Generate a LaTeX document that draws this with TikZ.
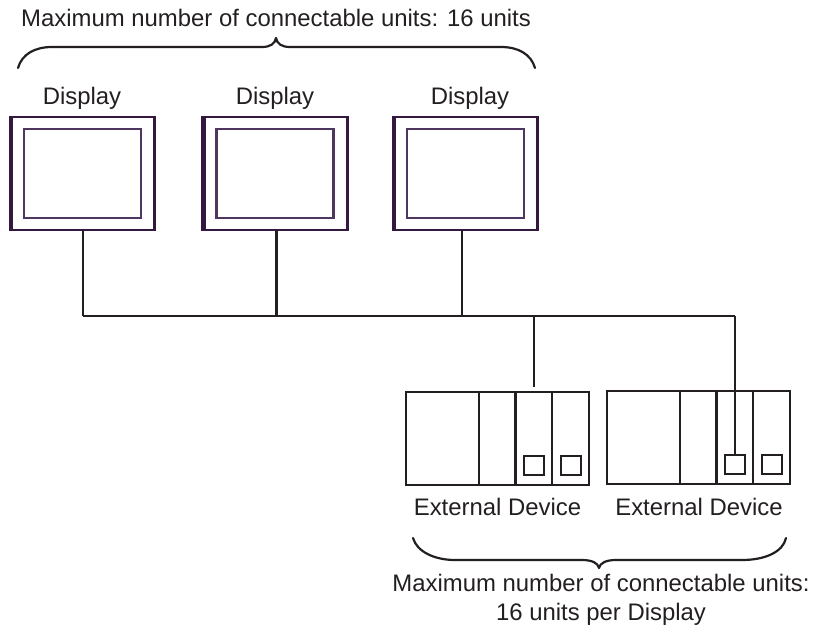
\documentclass[tikz,border=0pt]{standalone}
\usepackage{fontspec}
\setmainfont{Liberation Sans}
\definecolor{dark}{HTML}{231F20}
\definecolor{frame}{HTML}{35183F}
\definecolor{framein}{HTML}{4E3660}
\tikzset{
  x=1pt,y=-1pt,
  label text/.style={font=\fontsize{23.9}{28.5}\selectfont,text=dark,inner sep=0pt,align=center},
  link/.style={draw=dark,line width=2.5pt},
  outerframe/.style={draw=frame,line width=2.4pt,fill=white},
  innerframe/.style={draw=framein,line width=2.2pt,fill=white},
  unit/.style={draw=dark,line width=2.4pt,fill=white},
  port/.style={draw=dark,line width=1.8pt},
  curly/.style={draw=dark,line width=2.2pt,line cap=round,line join=round}
}
\newcommand{\disp}[3]{%
  \path[outerframe] (#1,117) rectangle (#1+145,230);
  \draw[frame,line width=4pt] (#1+1,117) -- (#1+1,230);
  \draw[frame,line width=3pt] (#1+144.5,117) -- (#1+144.5,230);
  \path[innerframe] (#1+14,129) rectangle (#1+131,218);
  \coordinate (#2) at (#3,230);
}
\newcommand{\extdev}[3]{%
  \path[unit] (#1,#2) rectangle (#1+183,#2+93);
  \draw[unit] (#1+73,#2) -- (#1+73,#2+93) (#1+109.5,#2) -- (#1+109.5,#2+93) (#1+146,#2) -- (#1+146,#2+93);
  \draw[port] (#1+118,#2+64) rectangle (#1+138,#2+83);
  \draw[port] (#1+155,#2+64) rectangle (#1+175,#2+83);
  \coordinate (#3top) at (#1+128,#2);
  \coordinate (#3port) at (#1+128,#2+64);
}
\begin{document}
\begin{tikzpicture}
\useasboundingbox (0,0) rectangle (813,628);
\node[label text] (toplabel) at (276,18) {Maximum number of connectable units: 16 units};
\draw[curly] (18,68) .. controls (22,54) and (35,47) .. (52,47) -- (262,47) .. controls (270,47) and (275,44) .. (276,38) .. controls (277,44) and (282,47) .. (290,47) -- (501,47) .. controls (518,47) and (531,54) .. (535,68);
\node[label text] (d1label) at (82,98) {Display};
\node[label text] (d2label) at (275,98) {Display};
\node[label text] (d3label) at (470,98) {Display};
\disp{10}{d1}{83}
\disp{202.5}{d2}{276.5}
\disp{393}{d3}{462}
\coordinate (bus1) at (83,316);
\coordinate (bus2) at (276.5,316);
\coordinate (bus3) at (462,316);
\coordinate (bus4) at (534,316);
\coordinate (bus5) at (735,316);
\extdev{406}{392}{e1}
\extdev{607}{391}{e2}
\draw[link] (d1) -- (bus1) (d2) -- (bus2) (d3) -- (bus3);
\draw[link] (bus1) -- (bus5);
\draw[link] (bus4) -- (534,387);
\draw[link] (bus5) -- (e2port);
\node[label text] (e1label) at (497.5,507) {External Device};
\node[label text] (e2label) at (699,507) {External Device};
\draw[curly] (413,538) .. controls (417,552) and (435,560) .. (455,560) -- (582,560) .. controls (592,560) and (598,563) .. (599,568) .. controls (600,563) and (606,560) .. (616,560) -- (742,560) .. controls (765,560) and (783,552) .. (786,538);
\node[label text] (botlabel) at (601,600) {Maximum number of connectable units:\\16 units per Display};
\end{tikzpicture}
\end{document}
